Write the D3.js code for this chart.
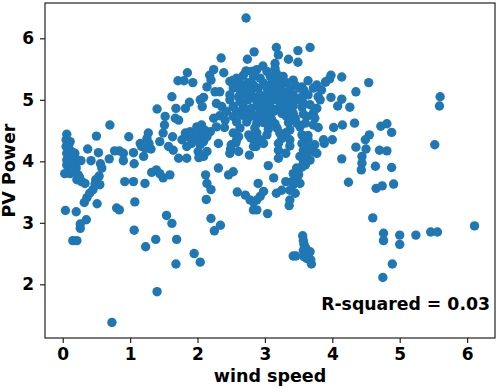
<!DOCTYPE html>
<html>
<head>
<meta charset="utf-8">
<script src="https://cdn.jsdelivr.net/npm/d3@7"></script>
<style>
  body { margin: 0; background: #fff; }
  text { font-family: "DejaVu Sans", sans-serif; font-weight: bold; }
</style>
</head>
<body>
<svg id="chart"></svg>
<script>
var w = 498;
var h = 389;
var margin = {left: 45, right: 3, top: 3, bottom: 51};

// [wind speed, PV power], grouped by region
var lowWind = [
  [0.06,4.44],[0.05,4.35],[0.11,4.32],[0.08,4.21],[0.05,4.24],[0.13,4.16],[0.18,4.13],[0.06,4.13],
  [0.11,4.08],[0.16,4.05],[0.23,4.02],[0.06,4.02],[0.27,4.01],[0.06,3.94],[0.13,3.91],[0.03,3.80],
  [0.11,3.80],[0.18,3.83],[0.23,3.78],[0.21,3.70],[0.28,3.67],[0.33,3.64],[0.11,3.89],[0.17,3.94],
  [0.20,3.89],[0.04,3.20],[0.20,3.18],[0.15,2.71],[0.21,2.71],[0.26,2.91],[0.26,2.98],[0.35,3.05],
  [0.32,3.33],[0.36,3.41],[0.40,3.48],[0.45,3.54],[0.37,4.20],[0.42,4.01],[0.50,4.41],[0.53,4.14],
  [0.56,3.96],[0.58,3.89],[0.49,3.70],[0.54,3.76],[0.55,3.62],[0.48,3.63],[0.51,3.31],[0.69,4.04],
  [0.70,4.59],[0.77,4.17],[0.84,4.17],[0.90,4.13],[0.90,4.01],[0.80,3.24],[0.84,3.21],[0.92,3.67],
  [1.05,3.67],[0.98,4.40],[1.05,4.14],[1.06,3.96],[1.07,3.34],[1.06,2.88],[0.73,1.38],
  [0.09,4.27],[0.14,4.10],[0.08,3.98],[0.15,3.86],[0.25,3.74]
];

var midWind = [
  [1.23,2.61],[1.22,3.64],[1.20,4.08],[1.17,4.24],[1.15,4.29],[1.23,4.21],[1.25,4.37],[1.27,4.46],
  [1.28,4.29],[1.31,4.20],[1.32,3.82],[1.39,3.86],[1.44,3.80],[1.49,3.73],[1.59,3.78],[1.40,4.85],
  [1.38,2.73],[1.44,4.32],[1.49,4.46],[1.51,4.59],[1.52,4.73],[1.54,3.12],[1.62,2.99],[1.62,5.05],
  [1.64,4.18],[1.63,4.40],[1.57,4.24],[1.69,2.73],[1.68,2.33],[1.68,4.86],[1.67,4.70],[1.72,4.67],
  [1.71,5.31],[1.80,5.31],[1.95,2.50],[2.04,2.36],[1.85,5.44],[1.93,5.28],[1.88,4.96],[1.82,4.86],
  [1.72,4.05],[1.84,4.05],[1.77,4.35],[1.82,4.46],[1.89,4.48],[1.94,4.40],[1.91,4.29],[1.99,4.35],
  [2.04,4.27],[2.09,4.32],[1.84,4.24],[2.01,4.16],[2.09,4.08],[2.14,4.16],[1.86,4.40],[2.04,4.43],
  [2.14,4.40],[2.19,4.48],[1.96,4.48],[2.02,4.06],[1.99,4.56],[2.06,4.59],[2.10,4.51],[2.12,3.78],
  [2.14,3.64],[2.20,3.54],[2.13,3.38],[2.20,3.07],[2.25,2.87],[2.34,2.96],[2.31,3.89],[2.31,4.29],
  [2.04,5.00],[2.09,5.04],[2.07,4.89],[2.14,5.21],[2.18,5.40],[2.24,5.49],[2.20,5.32],[2.35,5.68],
  [2.39,5.44],[2.26,5.13],[2.33,5.13],[2.28,4.94],[2.36,4.89],[2.24,4.70],[2.28,4.56],[2.33,4.74],
  [2.41,4.67],[2.46,3.78],[2.53,3.83],[2.59,3.50],[1.40,1.88],[2.40,4.55],[2.50,4.27],[2.57,4.30]
];

var mainCluster = [
  [2.72,6.33],[3.17,5.85],[3.67,5.85],[2.84,5.78],[3.49,5.80],[2.74,5.66],[3.20,5.73],[3.35,5.66],
  [2.97,5.55],[3.15,5.59],[3.49,5.61],[3.15,5.51],[2.72,5.47],[2.80,5.46],[3.17,5.43],[2.88,5.49],
  [3.03,5.46],[2.68,5.40],[2.58,5.35],[2.83,5.38],[2.93,5.35],[3.08,5.38],[3.19,5.35],[3.27,5.38],
  [3.42,5.32],[3.64,5.31],[3.96,5.34],[3.98,5.40],[4.14,5.37],[2.48,5.30],[2.53,5.32],[2.56,5.24],
  [2.63,5.27],[2.75,5.28],[2.83,5.24],[2.98,5.27],[3.10,5.27],[3.22,5.24],[3.32,5.28],[3.45,5.24],
  [3.55,5.21],[3.77,5.24],[3.90,5.29],[2.53,5.19],[2.63,5.16],[2.71,5.19],[2.80,5.16],[2.90,5.19],
  [3.03,5.19],[3.13,5.16],[3.25,5.16],[3.37,5.17],[3.50,5.19],[3.58,5.15],[3.72,5.19],[3.84,5.16],
  [2.48,5.08],[2.61,5.05],[2.73,5.08],[2.83,5.05],[2.93,5.08],[3.03,5.08],[3.10,5.05],[3.20,5.08],
  [3.32,5.05],[3.42,5.08],[3.55,5.05],[3.64,5.08],[3.79,5.05],[3.98,5.04],[4.14,5.01],[2.48,5.00],
  [2.63,4.97],[2.75,5.00],[2.88,4.97],[2.98,5.00],[3.08,4.97],[3.18,5.00],[3.27,4.97],[3.37,4.94],
  [3.47,5.00],[3.57,4.95],[3.82,5.00],[4.08,4.90],[2.53,4.89],[2.68,4.89],[2.80,4.86],[2.90,4.90],
  [3.00,4.88],[3.10,4.86],[3.22,4.89],[3.35,4.86],[3.42,4.90],[3.55,4.88],[3.67,4.92],[3.77,4.86],
  [2.43,4.81],[2.58,4.81],[2.71,4.81],[2.80,4.78],[2.93,4.82],[3.03,4.78],[3.13,4.81],[3.25,4.78],
  [3.32,4.82],[3.42,4.78],[3.57,4.77],[3.72,4.79],[2.53,4.73],[2.66,4.75],[2.75,4.70],[2.85,4.73],
  [2.95,4.70],[3.03,4.73],[3.10,4.68],[3.32,4.73],[3.45,4.70],[3.62,4.73],[3.74,4.70],[2.58,4.64],
  [2.73,4.64],[2.88,4.62],[2.98,4.63],[3.05,4.64],[3.15,4.61],[3.35,4.63],[3.47,4.62],[3.60,4.62],
  [3.72,4.59],[2.63,4.54],[2.85,4.54],[3.05,4.52],[3.18,4.54],[3.37,4.51],[3.52,4.56],[3.79,4.55],
  [2.53,4.46],[2.61,4.40],[2.88,4.46],[3.03,4.43],[3.22,4.46],[3.32,4.47],[2.58,4.35],[3.25,4.37],
  [3.37,4.35],[2.98,4.29],[3.20,4.29],[3.37,4.25],[2.49,4.20],[3.20,4.18],[3.57,4.18],[2.48,4.13],
  [2.61,4.16],[2.77,4.10],[2.87,4.24],[2.85,4.32],[2.93,4.35],[2.83,4.24],[3.20,4.05],[3.31,4.13],
  [2.76,4.43],[2.79,4.38]
];

var slopeGroup = [
  [2.71,3.45],[2.78,3.37],[2.83,3.34],[2.88,3.37],[2.93,3.43],[2.98,3.51],[2.83,3.21],[2.88,3.21],
  [2.90,3.64],[3.04,3.15],[3.05,3.93],[3.13,3.73],[3.17,3.48],[3.25,3.53],[3.31,3.67],[3.36,3.28],
  [3.37,3.37],[3.37,3.53],[3.42,3.62],[3.45,3.48],[3.47,3.70],[3.42,3.80],[3.50,3.86],[3.55,3.91],
  [3.57,3.97],[3.52,4.08],[3.60,4.13],[3.62,4.24],[3.64,4.35],[3.60,4.02],[3.52,3.64],[3.57,4.03],
  [3.67,4.02],[3.60,3.94],[3.47,3.89],[3.50,3.78],[3.40,3.67],[3.55,4.29],[3.62,4.11],[3.72,4.16],
  [3.67,4.20],[3.77,4.13],[3.74,4.27],[3.88,4.29],[3.87,4.35],[3.64,4.42],[3.55,4.43],
  [3.56,2.79],[3.57,2.71],[3.58,2.65],[3.60,2.60],[3.62,2.56],[3.65,2.50],[3.58,2.45],[3.62,2.42],
  [3.68,2.40],[3.69,2.33],[3.57,2.55],[3.67,2.53],[3.42,2.46],[3.46,2.46]
];

var highWind = [
  [4.35,5.13],[4.26,4.88],[4.54,5.28],[3.90,5.29],[4.33,4.62],[4.15,4.59],[4.02,4.55],[4.72,4.57],
  [4.81,4.61],[4.88,4.47],[4.55,4.43],[4.00,4.35],[4.49,4.35],[4.35,4.23],[4.50,4.20],[4.70,4.18],
  [4.81,4.17],[4.44,4.08],[4.14,4.04],[4.44,3.97],[4.43,3.86],[4.88,3.90],[4.64,3.92],[4.24,3.66],
  [4.91,3.63],[4.74,3.60],[4.65,3.56],[4.60,3.08],[4.76,2.83],[4.76,2.71],[5.00,2.80],[5.00,2.65],
  [5.24,2.80],[5.46,2.85],[5.56,2.85],[6.11,2.95],[4.89,2.33],[4.75,2.11],[5.52,4.27],[5.60,5.05],
  [5.59,4.90]
];

var allPoints = lowWind.concat(midWind, mainCluster, slopeGroup, highWind);
var xTicks = [0, 1, 2, 3, 4, 5, 6];
var yTicks = [2, 3, 4, 5, 6];

var svg = d3.select("#chart")
    .attr("width", w)
    .attr("height", h);

var xScale = d3.scaleLinear()
    .domain([-0.263, 6.414])
    .range([margin.left, w - margin.right]);
var yScale = d3.scaleLinear()
    .domain([1.127, 6.574])
    .range([h - margin.bottom, margin.top]);

// frame
svg.append("rect")
    .attr("x", margin.left)
    .attr("y", margin.top)
    .attr("width", w - margin.left - margin.right)
    .attr("height", h - margin.top - margin.bottom)
    .attr("fill", "none")
    .attr("stroke", "#222")
    .attr("stroke-width", 1.2);

var xAxis = d3.axisBottom(xScale).tickValues(xTicks).tickSize(5).tickPadding(5).tickFormat(d3.format("d"));
var yAxis = d3.axisLeft(yScale).tickValues(yTicks).tickSize(5).tickPadding(6).tickFormat(d3.format("d"));

var gx = svg.append("g")
    .attr("transform", `translate(0, ${h - margin.bottom})`)
    .call(xAxis);
var gy = svg.append("g")
    .attr("transform", `translate(${margin.left}, 0)`)
    .call(yAxis);
[gx, gy].forEach(g => {
    g.select(".domain").remove();
    g.selectAll("line").attr("stroke", "#222").attr("stroke-width", 1.2);
    g.selectAll("text").attr("font-size", 17).attr("fill", "#000")
        .style("font-family", "DejaVu Sans").style("font-weight", "bold");
});

// dots
svg.append("g")
    .selectAll("circle")
    .data(allPoints)
    .join("circle")
    .attr("cx", d => xScale(d[0]))
    .attr("cy", d => yScale(d[1]))
    .attr("r", 4.7)
    .attr("fill", "#1f77b4");

// labels
svg.append("text")
    .attr("x", (margin.left + w - margin.right) / 2)
    .attr("y", 382)
    .attr("text-anchor", "middle")
    .attr("font-size", 17.5)
    .text("wind speed");

svg.append("text")
    .attr("transform", `translate(15, ${(margin.top + h - margin.bottom) / 2}) rotate(-90)`)
    .attr("text-anchor", "middle")
    .attr("font-size", 17.5)
    .text("PV Power");

svg.append("text")
    .attr("x", 490)
    .attr("y", 310)
    .attr("text-anchor", "end")
    .attr("font-size", 17.3)
    .text("R-squared = 0.03");
</script>
</body>
</html>
